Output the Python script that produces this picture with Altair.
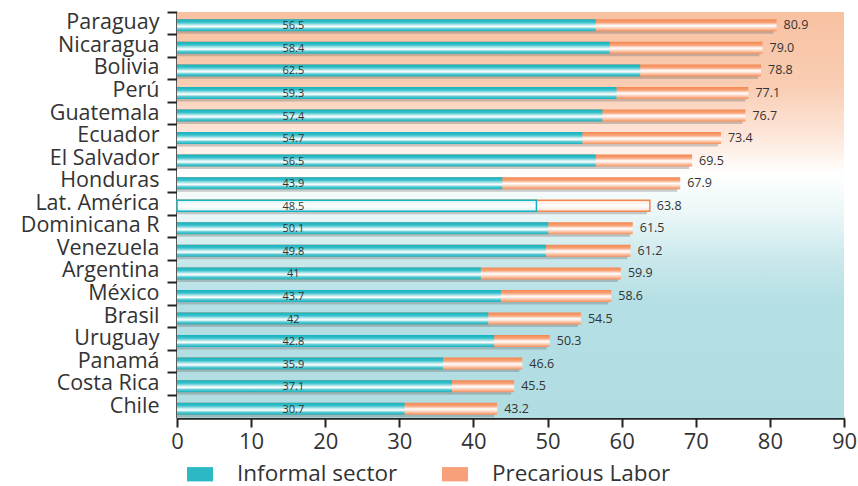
import altair as alt
import pandas as pd

countries = ["Paraguay", "Nicaragua", "Bolivia", "Perú", "Guatemala", "Ecuador",
             "El Salvador", "Honduras", "Lat. América", "Dominicana R", "Venezuela",
             "Argentina", "México", "Brasil", "Uruguay", "Panamá", "Costa Rica", "Chile"]
informal = [56.5, 58.4, 62.5, 59.3, 57.4, 54.7, 56.5, 43.9, 48.5, 50.1, 49.8,
            41, 43.7, 42, 42.8, 35.9, 37.1, 30.7]
precarious = [80.9, 79.0, 78.8, 77.1, 76.7, 73.4, 69.5, 67.9, 63.8, 61.5, 61.2,
              59.9, 58.6, 54.5, 50.3, 46.6, 45.5, 43.2]
series = ["Informal sector", "Precarious Labor"]
x_ticks = [0, 10, 20, 30, 40, 50, 60, 70, 80, 90]

df = pd.DataFrame({
    "country": countries,
    "informal": informal,
    "precarious": precarious,
    "inf_label": [f"{v:g}" for v in informal],
    "pre_label": [f"{v:.1f}" for v in precarious],
    "highlight": [c == "Lat. América" for c in countries],
})
leg_df = pd.DataFrame({"series": series})
bg_df = pd.DataFrame({"panel": ["background"]})

FONT = "Open Sans"
TXT = "#333333"
W, H = 667, 406


def grad(stops):
    return alt.LinearGradient(
        gradient="linear", x1=0, y1=0, x2=0, y2=1,
        stops=[alt.GradientStop(offset=o, color=c) for o, c in stops])


teal = grad([(0, "#14b2bf"), (0.25, "#36c0ca"), (0.5, "#cfeff2"), (0.62, "#ffffff"),
             (0.8, "#58c9d2"), (1, "#14b2bf")])
orange = grad([(0, "#f4874f"), (0.28, "#f8a47a"), (0.52, "#ffffff"), (0.68, "#fde0d0"),
               (1, "#f58d58")])
teal_pale = grad([(0, "#d9f2f4"), (0.5, "#ffffff"), (1, "#d9f2f4")])
orange_pale = grad([(0, "#fde3d5"), (0.5, "#ffffff"), (1, "#fde3d5")])
bg = grad([(0, "#f8c1a1"), (0.18, "#f9cdb3"), (0.3, "#fde5d8"), (0.4, "#ffffff"),
           (0.5, "#eaf6f7"), (0.62, "#c7e7eb"), (0.72, "#b4dfe4"), (1, "#b1dde2")])

y_enc = alt.Y("country:N", sort=countries, title=None,
              scale=alt.Scale(paddingInner=0, paddingOuter=0),
              axis=alt.Axis(bandPosition=0, labelFontSize=21.5, labelFont=FONT,
                            labelColor=TXT, tickSize=10, tickWidth=2, tickColor="#222",
                            domainColor="#222", domainWidth=2.5, labelPadding=8,
                            labelLimit=300))
x_scale = alt.Scale(domain=[0, 90], nice=False)
x_axis = alt.Axis(values=x_ticks, title=None, labelFontSize=22, labelFont=FONT,
                  labelColor=TXT, tickSize=9, tickWidth=2, tickColor="#222",
                  domainColor="#222", domainWidth=2.5, grid=False, labelPadding=4,
                  labelFlush=False)

background = alt.Chart(bg_df).mark_rect(color=bg).encode(
    x=alt.value(0), x2=alt.value(W), y=alt.value(0), y2=alt.value(H))

base = alt.Chart(df).encode(y=y_enc)

shadow = base.mark_bar(height=9, yOffset=6, xOffset=-3, clip=True,
                       color="#6e6e6e", opacity=0.35).encode(
    x=alt.X("precarious:Q", scale=x_scale, axis=x_axis))

pre_bar = base.transform_filter("!datum.highlight").mark_bar(
    height=12, yOffset=2, color=orange).encode(
    x=alt.X("precarious:Q", scale=x_scale, axis=x_axis))
inf_bar = base.transform_filter("!datum.highlight").mark_bar(
    height=12, yOffset=2, color=teal).encode(
    x=alt.X("informal:Q", scale=x_scale, axis=x_axis))
pre_hl = base.transform_filter("datum.highlight").mark_bar(
    height=11, yOffset=2, color=orange_pale, stroke="#f4874f", strokeWidth=1.5).encode(
    x=alt.X("precarious:Q", scale=x_scale, axis=x_axis))
inf_hl = base.transform_filter("datum.highlight").mark_bar(
    height=11, yOffset=2, color=teal_pale, stroke="#14b2bf", strokeWidth=1.5).encode(
    x=alt.X("informal:Q", scale=x_scale, axis=x_axis))

inf_text = base.transform_calculate(lab_pos="15.7").mark_text(
    fontSize=11, font=FONT, color=TXT, yOffset=3).encode(
    x=alt.X("lab_pos:Q", scale=x_scale, axis=x_axis), text="inf_label:N")
pre_text = base.mark_text(fontSize=12.5, font=FONT, color=TXT, align="left", dx=7,
                          yOffset=2).encode(
    x=alt.X("precarious:Q", scale=x_scale, axis=x_axis), text="pre_label:N")

legend_layer = alt.Chart(leg_df).transform_filter("false").mark_square().encode(
    color=alt.Color("series:N",
                    scale=alt.Scale(domain=series, range=["#2bbac5", "#f7a07a"]),
                    legend=alt.Legend(title=None, orient="none", direction="horizontal",
                                      legendX=10, legendY=449,
                                      symbolType="M-1,-0.55H1V0.55H-1Z",
                                      symbolSize=676, symbolOpacity=1,
                                      symbolStrokeWidth=0,
                                      labelFontSize=22.5, labelFont=FONT, labelColor=TXT,
                                      labelOffset=24, columnPadding=44,
                                      labelLimit=400)))

chart = alt.layer(background, shadow, pre_bar, inf_bar, pre_hl, inf_hl, inf_text,
                  pre_text, legend_layer).properties(
    width=W, height=H,
    autosize=alt.AutoSizeParams(type="none"),
    padding={"left": 177, "top": 12, "right": 14, "bottom": 68},
    background="white",
).configure_view(strokeWidth=0)

chart.save("out.html", embed_options={"renderer": "svg", "actions": False})
